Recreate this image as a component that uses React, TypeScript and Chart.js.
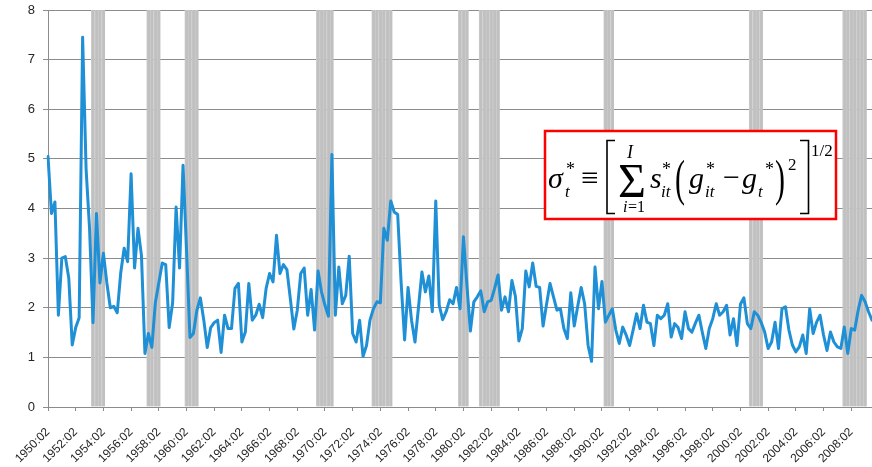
import React, { useEffect, useRef } from 'react';
import { Chart, registerables } from 'chart.js';

Chart.register(...registerables);

// Quarterly categories 1950:02 .. 2009:04
const START_YEAR = 1950;
const START_QUARTER = 2;
const QUARTER_COUNT = 239;
const quarters: string[] = [];
for (let k = 0; k < QUARTER_COUNT; k++) {
  const q = START_QUARTER - 1 + k;
  quarters.push(`${START_YEAR + Math.floor(q / 4)}:0${(q % 4) + 1}`);
}

// Labelled ticks on the x axis
const xTickLabels: string[] = [
  '1950:02', '1952:02', '1954:02', '1956:02', '1958:02', '1960:02', '1962:02', '1964:02',
  '1966:02', '1968:02', '1970:02', '1972:02', '1974:02', '1976:02', '1978:02', '1980:02',
  '1982:02', '1984:02', '1986:02', '1988:02', '1990:02', '1992:02', '1994:02', '1996:02',
  '1998:02', '2000:02', '2002:02', '2004:02', '2006:02', '2008:02',
];

const yTicks: number[] = [0, 1, 2, 3, 4, 5, 6, 7, 8];

// Dispersion sigma*_t, one value per quarter
const dispersion: number[] = [
  5.05, 3.9, 4.13, 1.85, 3.0, 3.03, 2.6, 1.25, 1.6, 1.8,
  7.45, 4.8, 3.6, 1.7, 3.9, 2.5, 3.1, 2.5, 2.0, 2.03,
  1.9, 2.7, 3.2, 2.93, 4.7, 2.8, 3.6, 3.05, 1.08, 1.48,
  1.2, 2.1, 2.5, 2.9, 2.87, 1.6, 2.1, 4.03, 2.8, 4.87,
  3.2, 1.4, 1.48, 1.95, 2.2, 1.75, 1.2, 1.6, 1.7, 1.75,
  1.1, 1.85, 1.58, 1.58, 2.39, 2.49, 1.31, 1.51, 2.49, 1.75,
  1.85, 2.07, 1.8, 2.39, 2.69, 2.52, 3.46, 2.69, 2.87, 2.77,
  2.18, 1.57, 1.95, 2.69, 2.8, 1.85, 2.37, 1.55, 2.74, 2.32,
  2.05, 1.83, 5.09, 1.85, 2.82, 2.08, 2.25, 3.04, 1.48, 1.31,
  1.75, 1.02, 1.24, 1.75, 1.98, 2.12, 2.1, 3.6, 3.36, 4.15,
  3.93, 3.88, 2.5, 1.35, 2.41, 1.75, 1.31, 2.0, 2.72, 2.32,
  2.64, 1.92, 4.15, 2.05, 1.76, 1.92, 2.16, 2.08, 2.41, 1.98,
  3.43, 2.45, 1.53, 2.12, 2.22, 2.34, 1.92, 2.12, 2.15, 2.39,
  2.66, 1.95, 2.22, 1.92, 2.55, 2.23, 1.33, 1.58, 2.74, 2.42,
  2.9, 2.43, 2.41, 1.63, 2.07, 2.49, 2.22, 1.95, 1.98, 1.58,
  1.38, 2.3, 1.63, 2.03, 2.41, 2.08, 1.24, 0.92, 2.82, 1.98,
  2.53, 1.71, 1.85, 1.98, 1.55, 1.28, 1.61, 1.45, 1.24, 1.55,
  1.88, 1.58, 2.05, 1.71, 1.68, 1.24, 1.85, 1.78, 1.85, 2.08,
  1.41, 1.68, 1.6, 1.38, 1.92, 1.58, 1.51, 1.69, 1.85, 1.5,
  1.18, 1.58, 1.78, 2.08, 1.85, 1.92, 2.05, 1.45, 1.78, 1.24,
  2.07, 2.2, 1.68, 1.58, 1.92, 1.85, 1.7, 1.51, 1.18, 1.31,
  1.71, 1.18, 1.98, 2.02, 1.55, 1.25, 1.11, 1.21, 1.45, 1.08,
  1.98, 1.48, 1.71, 1.85, 1.45, 1.14, 1.51, 1.31, 1.21, 1.18,
  1.61, 1.08, 1.58, 1.55, 1.95, 2.25, 2.12, 1.92, 1.75,
];

// Recession periods (first and last quarter)
const recessionStarts: string[] = ['1953:03', '1957:03', '1960:02', '1969:04', '1973:04', '1980:01', '1981:03', '1990:03', '2001:01', '2007:04'];
const recessionEnds: string[] = ['1954:02', '1958:02', '1961:01', '1970:04', '1975:01', '1980:03', '1982:04', '1991:01', '2001:04', '2009:02'];
const RECESSION_HEIGHT = 8;

const recessionBars: (number | null)[] = quarters.map((q) => {
  for (let r = 0; r < recessionStarts.length; r++) {
    if (q >= recessionStarts[r] && q <= recessionEnds[r]) return RECESSION_HEIGHT;
  }
  return null;
});

const tickSet = new Set(xTickLabels);
const SERIF = '"Liberation Serif", "Times New Roman", "DejaVu Serif", serif';

const formulaPlugin = {
  id: 'formulaBox',
  afterDraw(chart: any) {
    const ctx: CanvasRenderingContext2D = chart.ctx;
    ctx.save();
    // box
    ctx.fillStyle = '#ffffff';
    ctx.fillRect(545, 131, 291, 88);
    ctx.strokeStyle = '#ff0000';
    ctx.lineWidth = 2.5;
    ctx.strokeRect(545, 131, 291, 88);

    ctx.fillStyle = '#000000';
    ctx.textAlign = 'left';
    ctx.textBaseline = 'alphabetic';
    const T = (s: string, x: number, y: number, size: number, italic = false) => {
      ctx.font = `${italic ? 'italic ' : ''}${size}px ${SERIF}`;
      ctx.fillText(s, x, y);
    };
    const P = (s: string, x: number, y: number, size: number, sy: number) => {
      ctx.save();
      ctx.translate(x, y);
      ctx.scale(1, sy);
      ctx.font = `${size}px ${SERIF}`;
      ctx.fillText(s, 0, 0);
      ctx.restore();
    };

    T('σ', 548, 188, 30, true);
    T('*', 566, 175, 18);
    T('t', 565, 197, 17, true);
    T('≡', 581, 188, 31);

    // brackets
    ctx.strokeStyle = '#000000';
    ctx.lineWidth = 1.6;
    ctx.beginPath();
    ctx.moveTo(615, 140.5);
    ctx.lineTo(607, 140.5);
    ctx.lineTo(607, 213.5);
    ctx.lineTo(615, 213.5);
    ctx.stroke();
    ctx.beginPath();
    ctx.moveTo(800, 140.5);
    ctx.lineTo(808.5, 140.5);
    ctx.lineTo(808.5, 213.5);
    ctx.lineTo(800, 213.5);
    ctx.stroke();

    T('I', 627, 158, 18, true);
    T('Σ', 618, 197, 48);
    T('i', 623, 212, 16, true);
    T('=1', 628, 212, 16);

    T('s', 650, 188, 30, true);
    T('*', 662, 175, 18);
    T('it', 661, 197, 17, true);

    P('(', 675, 195, 30, 1.7);
    T('g', 689, 188, 30, true);
    T('*', 706, 175, 18);
    T('it', 705, 197, 17, true);
    T('−', 723, 187, 30);
    T('g', 742, 188, 30, true);
    T('t', 758, 197, 17, true);
    T('*', 765, 175, 18);
    P(')', 775, 195, 30, 1.7);
    T('2', 788, 170, 17);
    T('1/2', 811, 156, 17);

    ctx.restore();
  },
};

export default function App() {
  const canvasRef = useRef<HTMLCanvasElement | null>(null);

  useEffect(() => {
    document.body.style.margin = '0';
    const canvas = canvasRef.current;
    if (!canvas) return;
    const chart = new Chart(canvas, {
      type: 'line',
      data: {
        labels: quarters,
        datasets: [
          {
            type: 'line',
            data: dispersion,
            borderColor: '#1f8fd6',
            borderWidth: 3,
            pointRadius: 0,
            tension: 0,
            borderJoinStyle: 'round',
            borderCapStyle: 'round',
            order: 0,
          } as any,
          {
            type: 'bar',
            data: recessionBars,
            backgroundColor: '#c0c0c0',
            borderColor: '#cbcbcb',
            borderWidth: { left: 1, right: 0, top: 0, bottom: 0 },
            borderSkipped: false,
            barPercentage: 1,
            categoryPercentage: 1,
            order: 1,
          } as any,
        ],
      },
      options: {
        responsive: false,
        animation: false,
        devicePixelRatio: 1,
        layout: { autoPadding: false, padding: { top: 10, right: 0, left: 0, bottom: 0 } },
        plugins: {
          legend: { display: false },
          tooltip: { enabled: false },
        },
        scales: {
          x: {
            type: 'category',
            offset: false,
            grid: {
              display: true,
              offset: false,
              drawOnChartArea: false,
              drawTicks: true,
              tickLength: 4,
              color: '#8c8c8c',
            },
            border: { color: '#8c8c8c', width: 1 },
            ticks: {
              autoSkip: false,
              maxRotation: 45,
              minRotation: 45,
              padding: 14,
              color: '#262626',
              font: { family: '"Liberation Sans", Arial, sans-serif', size: 12 },
              callback: (value: any) => {
                const lab = quarters[value as number];
                return tickSet.has(lab) ? lab : null;
              },
            },
            afterFit: (scale: any) => {
              scale.height = 60;
              scale.paddingLeft = 0;
              scale.paddingRight = 0;
            },
          },
          y: {
            min: yTicks[0],
            max: yTicks[yTicks.length - 1],
            afterBuildTicks: (scale: any) => {
              scale.ticks = yTicks.map((v) => ({ value: v }));
            },
            grid: { color: '#8c8c8c', tickLength: 5, lineWidth: 1 },
            border: { color: '#8c8c8c', width: 1 },
            ticks: {
              padding: 8,
              color: '#262626',
              font: { family: '"Liberation Sans", Arial, sans-serif', size: 13 },
            },
            afterFit: (scale: any) => {
              scale.width = 48;
              scale.paddingTop = 0;
              scale.paddingBottom = 0;
            },
          },
        },
      } as any,
      plugins: [formulaPlugin],
    });
    return () => chart.destroy();
  }, []);

  return (
    <div style={{ width: 872, height: 467, position: 'relative', background: '#fff' }}>
      <canvas ref={canvasRef} width={872} height={467} style={{ display: 'block' }} />
    </div>
  );
}
